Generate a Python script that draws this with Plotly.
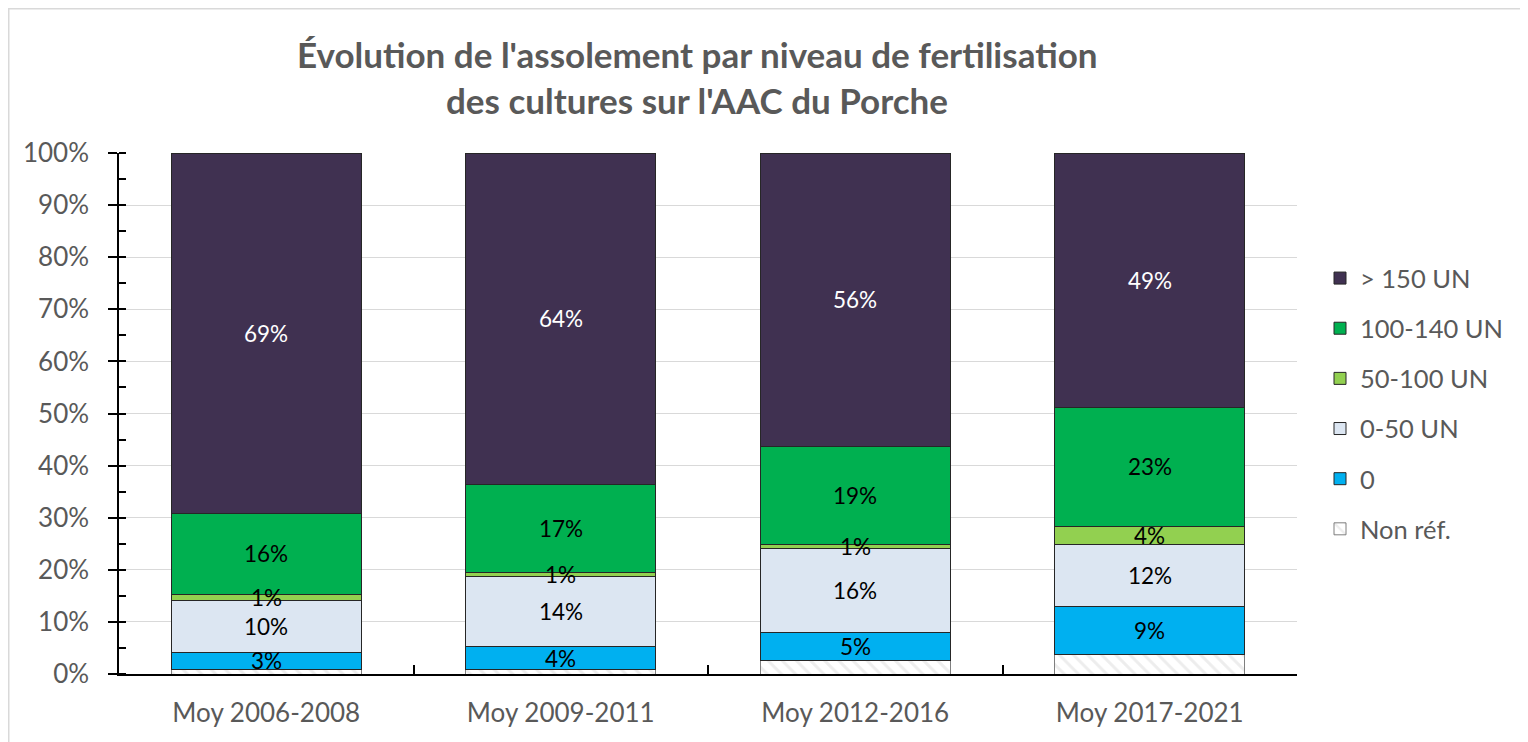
import plotly.graph_objects as go

categories = ["Moy 2006-2008", "Moy 2009-2011", "Moy 2012-2016", "Moy 2017-2021"]
series_names = ["Non réf.", "0", "0-50 UN", "50-100 UN", "100-140 UN", "> 150 UN"]
non_ref = [0.8, 0.8, 2.6, 3.8]
zero = [3.4, 4.4, 5.3, 9.1]
u0_50 = [10.0, 13.6, 16.1, 11.9]
u50_100 = [1.0, 0.6, 0.8, 3.6]
u100_140 = [15.7, 17.0, 18.8, 22.7]
u150 = [69.1, 63.6, 56.4, 48.9]
y_ticks = [0, 10, 20, 30, 40, 50, 60, 70, 80, 90, 100]
y_tick_labels = ["0%", "10%", "20%", "30%", "40%", "50%", "60%", "70%", "80%", "90%", "100%"]

values = [non_ref, zero, u0_50, u50_100, u100_140, u150]
colors = ["#FFFFFF", "#00B0F0", "#DCE6F2", "#92D050", "#00B050", "#403151"]
label_colors = [None, "#000000", "#000000", "#000000", "#000000", "#FFFFFF"]

FONT = "Lato"
GRAY = "#595959"

W, H = 1520, 734
L, R, T, B = 111, 1520 - 1289, 145, 734 - 666
pw, ph = W - L - R, H - T - B


def px_x(x):
    return (x - L) / pw


def px_y(y):
    return (H - B - y) / ph


fig = go.Figure()
for i, (name, vals, col) in enumerate(zip(series_names, values, colors)):
    marker = dict(color=col, line=dict(color="#262626", width=1))
    if i == 0:
        marker = dict(color="#FFFFFF", line=dict(color="#7f7f7f", width=1),
                      pattern=dict(shape="\\", fgcolor="#dcdcdc", bgcolor="#FFFFFF",
                                   size=10, solidity=0.3))
    fig.add_trace(go.Bar(x=categories, y=vals, name=name, marker=marker,
                         width=0.645, legendgroup=name, legendrank=100 - 10 * i,
                         hoverinfo="skip"))

annotations = []
for ci, cat in enumerate(categories):
    base = 0.0
    for si, vals in enumerate(values):
        v = vals[ci]
        if label_colors[si] is not None:
            annotations.append(dict(x=cat, y=base + v / 2, xref="x", yref="y",
                                    text=f"{round(v):d}%", showarrow=False,
                                    font=dict(family=FONT, size=22.5, color=label_colors[si])))
        base += v

annotations.append(dict(x=px_x(689), y=px_y(46), xref="paper", yref="paper",
                        text="<b>Évolution de l'assolement par niveau de fertilisation</b>",
                        showarrow=False, font=dict(family=FONT, size=35, color=GRAY),
                        xanchor="center", yanchor="middle"))
annotations.append(dict(x=px_x(689), y=px_y(92), xref="paper", yref="paper",
                        text="<b>des cultures sur l'AAC du Porche</b>",
                        showarrow=False, font=dict(family=FONT, size=35, color=GRAY),
                        xanchor="center", yanchor="middle"))

fig.update_layout(
    width=W, height=H,
    margin=dict(l=L, r=R, t=T, b=B),
    paper_bgcolor="white", plot_bgcolor="white",
    barmode="stack",
    showlegend=True,
    legend=dict(x=px_x(1312), y=px_y(247), xanchor="left", yanchor="top",
                traceorder="grouped", tracegroupgap=14,
                font=dict(family=FONT, size=25.5, color=GRAY), itemclick=False),
    annotations=annotations,
    shapes=[dict(type="rect", xref="paper", yref="paper",
                 x0=px_x(0.75), x1=px_x(1560),
                 y0=px_y(780), y1=px_y(0.75),
                 line=dict(color="#d9d9d9", width=1.5), fillcolor="rgba(0,0,0,0)", layer="below")],
)
fig.update_yaxes(range=[0, 100], tickmode="array", tickvals=y_ticks, ticktext=y_tick_labels,
                 showgrid=True, gridcolor="#d9d9d9", gridwidth=1,
                 showline=True, linecolor="#000000", linewidth=1.5,
                 ticks="outside", ticklen=9, tickcolor="#000000", tickwidth=1.5,
                 minor=dict(dtick=5, ticks="inside", ticklen=7, tickcolor="#000000", tickwidth=1.5, showgrid=False),
                 tickfont=dict(family=FONT, size=26, color=GRAY), ticklabelstandoff=14,
                 zeroline=False, fixedrange=True)
fig.update_xaxes(showline=True, linecolor="#000000", linewidth=1.5,
                 ticks="inside", tickson="boundaries", ticklen=9, tickcolor="#000000", tickwidth=1.5,
                 tickfont=dict(family=FONT, size=26, color=GRAY), ticklabelstandoff=15,
                 fixedrange=True)

fig.write_html("out.html")
